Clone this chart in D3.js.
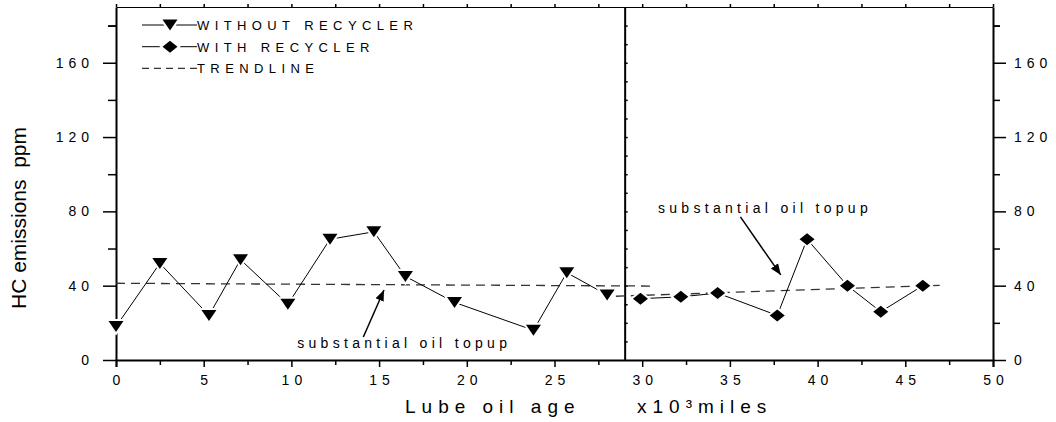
<!DOCTYPE html>
<html>
<head>
<meta charset="utf-8">
<script src="https://cdn.jsdelivr.net/npm/d3@7"></script>
<style>
  body { margin: 0; background: #fff; }
  svg { display: block; font-family: "Liberation Sans", Arial, sans-serif; }
</style>
</head>
<body>
<div id="chart"></div>
<script>
// data (x in 10^3 miles, y in ppm)
const withoutX = [0, 2.5, 5.3, 7.1, 9.8, 12.2, 14.7, 16.5, 19.3, 23.8, 25.7, 28.0];
const withoutY = [18, 52, 24, 54, 30, 65, 69, 45, 31, 16, 47, 35];
const withX = [29.9, 32.2, 34.3, 37.7, 39.4, 41.7, 43.6, 46.0];
const withY = [33, 34, 36, 24, 65, 40, 26, 40];
const trend1X = [0, 30.5];
const trend1Y = [41.3, 39.8];
const trend2X = [28.5, 47.3];
const trend2Y = [34.3, 40.3];
const dividerX = 29;
const xTicks = [0, 5, 10, 15, 20, 25, 30, 35, 40, 45, 50];
const yTicks = [0, 40, 80, 120, 160];
const legendLabels = ["WITHOUT RECYCLER", "WITH RECYCLER", "TRENDLINE"];
const noteText = "substantial oil topup";
// annotation anchors in data units: [textX, textY, arrowFromX, arrowFromY, arrowToX, arrowToY]
const notes = [
  [10.33, 6.5, 14.1, 12.4, 15.28, 37.7],
  [30.9, 79, 35.6, 77, 37.9, 45.8]
];

const width = 1056, height = 422;
const margin = {top: 7, right: 63, bottom: 62, left: 116};

const svg = d3.select("#chart").append("svg")
  .attr("width", width)
  .attr("height", height);

const x = d3.scaleLinear().domain([0, 50]).range([margin.left, width - margin.right]);
const y = d3.scaleLinear().domain([0, 190]).range([height - margin.bottom, margin.top]);

const ink = "#000";

// arrow head
svg.append("defs").append("marker")
  .attr("id", "arrow")
  .attr("viewBox", "0 0 10 10")
  .attr("refX", 10).attr("refY", 5)
  .attr("markerWidth", 11).attr("markerHeight", 11)
  .attr("markerUnits", "userSpaceOnUse")
  .attr("orient", "auto")
  .append("path")
  .attr("d", "M0,1 L10,5 L0,9 Z")
  .attr("fill", ink);

// minor tick values
const xMinor = d3.range(0, 50.01, 2.5).filter(v => v % 5 !== 0);
const yMinor = d3.range(20, 190, 40);

// bottom axis
const bottomAxis = svg.append("g")
  .attr("transform", `translate(0,${y(0)})`)
  .call(d3.axisBottom(x).tickValues(xTicks).tickSize(7).tickPadding(8).tickFormat(d3.format("d")));
bottomAxis.append("g").call(d3.axisBottom(x).tickValues(xMinor).tickSize(5).tickFormat(""))
  .select(".domain").remove();

// top frame with small upward ticks
const topAxis = svg.append("g")
  .attr("transform", `translate(0,${y(190)})`)
  .call(d3.axisTop(x).tickValues(d3.range(0, 50.01, 2.5)).tickSize(3).tickFormat("").tickSizeOuter(0));

// left axis
const leftAxis = svg.append("g")
  .attr("transform", `translate(${x(0)},0)`)
  .call(d3.axisLeft(y).tickValues(yTicks).tickSize(13).tickPadding(9).tickSizeOuter(0));
leftAxis.append("g").call(d3.axisLeft(y).tickValues(yMinor.concat([180])).tickSize(8).tickFormat(""))
  .select(".domain").remove();

// right axis
const rightAxis = svg.append("g")
  .attr("transform", `translate(${x(50)},0)`)
  .call(d3.axisRight(y).tickValues(yTicks).tickSize(13).tickPadding(8).tickSizeOuter(0));
rightAxis.append("g").call(d3.axisRight(y).tickValues(yMinor.concat([180])).tickSize(7).tickFormat(""))
  .select(".domain").remove();

// divider between the two phases, small inward ticks every 10
svg.append("g")
  .attr("transform", `translate(${x(dividerX)},0)`)
  .call(d3.axisRight(y).tickValues(d3.range(10, 190, 10)).tickSize(3).tickFormat("").tickSizeOuter(0));

svg.selectAll(".domain").attr("stroke", ink).attr("stroke-width", 2);
topAxis.select(".domain").attr("stroke-width", 1.2);
svg.selectAll(".tick line").attr("stroke", ink).attr("stroke-width", 1.5);
svg.selectAll(".tick text")
  .attr("font-size", 14)
  .attr("fill", ink)
  .attr("font-family", "Liberation Sans, Arial, sans-serif")
  .style("letter-spacing", "5px");
bottomAxis.selectAll(".tick text").attr("dx", "2.5px");

// trendlines
const pathLine = d3.line().x(d => x(d[0])).y(d => y(d[1]));
[[trend1X, trend1Y], [trend2X, trend2Y]].forEach(([tx, ty]) => {
  svg.append("path")
    .datum(tx.map((v, i) => [v, ty[i]]))
    .attr("d", pathLine)
    .attr("fill", "none")
    .attr("stroke", "#333")
    .attr("stroke-width", 1.3)
    .attr("stroke-dasharray", "9,6");
});

// series
const triDown = "M-7.5,-5.5 L7.5,-5.5 L0,5.5 Z";
const diamond = "M0,-6 L7.5,0 L0,6 L-7.5,0 Z";
const series = [
  {xs: withoutX, ys: withoutY, shape: triDown},
  {xs: withX, ys: withY, shape: diamond}
];
series.forEach(s => {
  const pts = s.xs.map((v, i) => [v, s.ys[i]]);
  svg.append("path")
    .datum(pts)
    .attr("d", pathLine)
    .attr("fill", "none")
    .attr("stroke", ink)
    .attr("stroke-width", 1);
  const g = svg.append("g").selectAll("g")
    .data(pts).enter().append("g")
    .attr("transform", d => `translate(${x(d[0])},${y(d[1])})`);
  g.append("path").attr("d", s.shape).attr("fill", "#fff").attr("stroke", "#fff").attr("stroke-width", 4);
  g.append("path").attr("d", s.shape).attr("fill", ink);
});

// annotations
notes.forEach(n => {
  svg.append("text")
    .attr("x", x(n[0])).attr("y", y(n[1]))
    .attr("font-size", 14)
    .style("letter-spacing", "4.3px")
    .text(noteText);
  svg.append("line")
    .attr("x1", x(n[2])).attr("y1", y(n[3]))
    .attr("x2", x(n[4])).attr("y2", y(n[5]))
    .attr("stroke", ink)
    .attr("stroke-width", 1.5)
    .attr("marker-end", "url(#arrow)");
});

// legend
const legend = svg.append("g").attr("transform", "translate(142,25)");
legendLabels.forEach((label, i) => {
  const row = legend.append("g").attr("transform", `translate(0,${i * 21.7})`);
  if (i < 2) {
    row.append("line").attr("x1", 0).attr("x2", 55).attr("stroke", ink).attr("stroke-width", 1);
    row.append("path").attr("d", series[i].shape).attr("transform", "translate(28,0)").attr("fill", "#fff").attr("stroke", "#fff").attr("stroke-width", 4);
    row.append("path").attr("d", series[i].shape).attr("transform", "translate(28,0)").attr("fill", ink);
  } else {
    row.append("line").attr("x1", 0).attr("x2", 55).attr("stroke", "#333")
      .attr("stroke-width", 1.2).attr("stroke-dasharray", "7,5");
  }
  row.append("text")
    .attr("x", 55).attr("y", 4.8)
    .attr("font-size", 13)
    .style("letter-spacing", "5.4px")
    .text(label);
});

// axis titles
svg.append("text")
  .attr("transform", `translate(26,218) rotate(-90)`)
  .attr("text-anchor", "middle")
  .attr("font-size", 21)
  .text("HC emissions\u00A0\u00A0ppm");

const xTitle = svg.append("text")
  .attr("y", 413)
  .attr("font-size", 19)
  .style("letter-spacing", "6px");
xTitle.append("tspan").attr("x", 405).text("Lube oil age");
xTitle.append("tspan").attr("x", 637).text("x10\u00B3miles");
</script>
</body>
</html>
